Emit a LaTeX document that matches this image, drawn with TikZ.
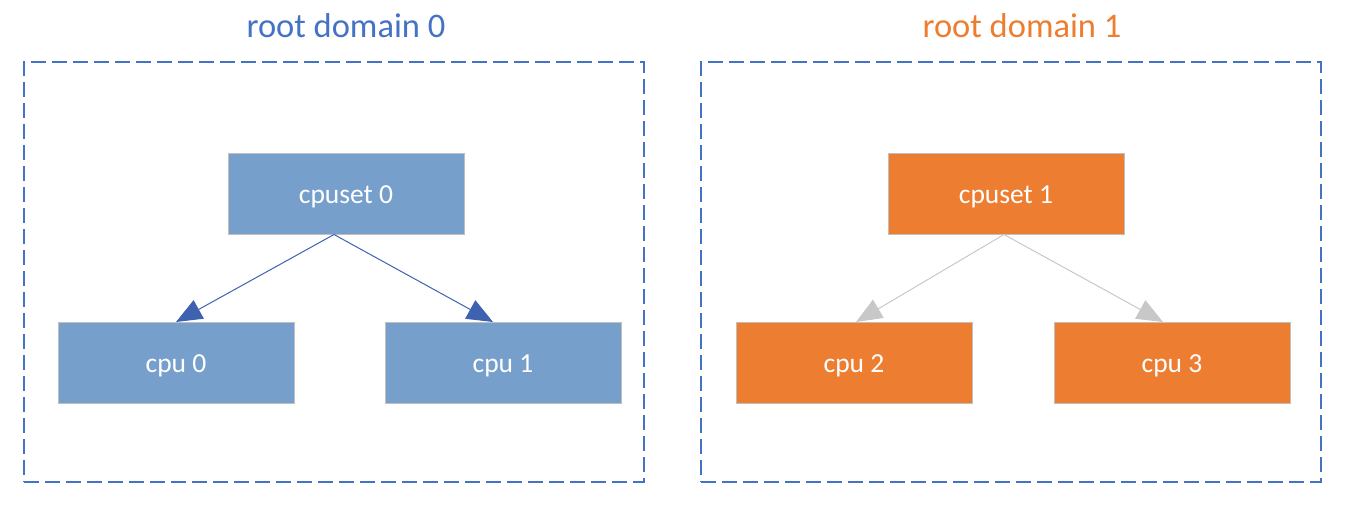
\documentclass[tikz,border=0pt]{standalone}
\usepackage{fontspec}
\setmainfont{Carlito}
\usetikzlibrary{arrows.meta,positioning}

\definecolor{boxblue}{HTML}{779FCC}
\definecolor{boxorange}{HTML}{ED7D31}
\definecolor{titleblue}{HTML}{4472C4}
\definecolor{edgeblue}{HTML}{3F62B0}
\definecolor{edgegray}{HTML}{C8C8C8}
\definecolor{rimgray}{HTML}{BFBFBF}

\begin{document}
\begin{tikzpicture}[x=1pt,y=-1pt]
  \tikzstyle{setbox}=[draw=rimgray,line width=1pt,text=white,
                      minimum width=236pt,minimum height=81pt,inner sep=0pt,
                      text height=22pt,text depth=3pt,
                      font=\fontsize{27.5}{32}\selectfont]
  \tikzstyle{rootbox}=[draw=titleblue,line width=2pt,dash pattern=on 15pt off 6pt,
                      minimum width=620pt,minimum height=420pt,inner sep=0pt]
  \tikzstyle{roottitle}=[font=\fontsize{34.5}{40}\selectfont,anchor=base,inner sep=0pt]

  \useasboundingbox (0,0) rectangle (1348,508);

  \node[rootbox] (dom0) at (334,272) {};
  \node[rootbox] (dom1) at (1010.5,272) {};
  \node[roottitle,text=titleblue] (t0) at (346,38) {root domain 0};
  \node[roottitle,text=boxorange] (t1) at (1022,38) {root domain 1};

  \node[setbox,fill=boxblue]   (cpuset0) at (346,193.5)  {cpuset 0};
  \node[setbox,fill=boxblue]   (cpu0)    at (176,363)    {cpu 0};
  \node[setbox,fill=boxblue]   (cpu1)    at (503,363)    {cpu 1};
  \node[setbox,fill=boxorange] (cpuset1) at (1006,193.5) {cpuset 1};
  \node[setbox,fill=boxorange] (cpu2)    at (854,363)    {cpu 2};
  \node[setbox,fill=boxorange] (cpu3)    at (1172,363)   {cpu 3};

  \path[line width=1pt]
        ([xshift=-12pt]cpuset0.south) edge[draw=edgeblue,-{Triangle[length=26pt,width=21pt,fill=edgeblue]}] (cpu0.north)
        ([xshift=-12pt]cpuset0.south) edge[draw=edgeblue,-{Triangle[length=26pt,width=21pt,fill=edgeblue]}] ([xshift=-10pt]cpu1.north)
        ([xshift=-2pt]cpuset1.south) edge[draw=edgegray,-{Triangle[length=26pt,width=21pt,fill=edgegray]}] ([xshift=2pt]cpu2.north)
        ([xshift=-2pt]cpuset1.south) edge[draw=edgegray,-{Triangle[length=26pt,width=21pt,fill=edgegray]}] ([xshift=-9pt]cpu3.north);
\end{tikzpicture}
\end{document}
